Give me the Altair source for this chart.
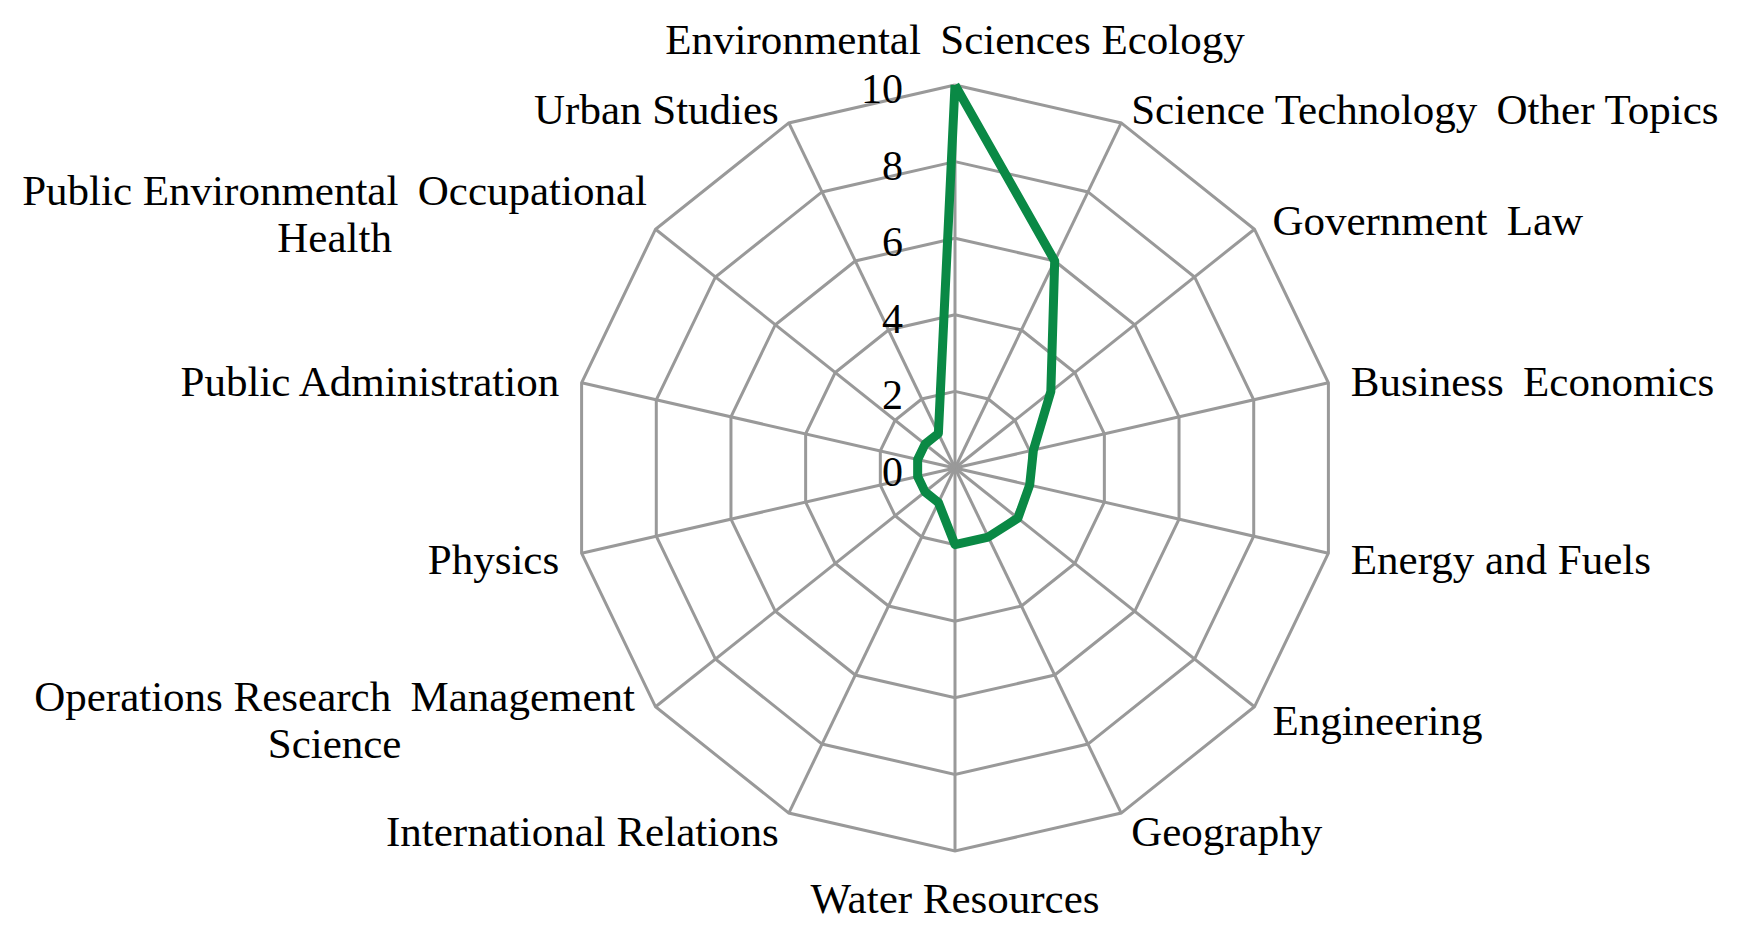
import altair as alt
import pandas as pd

categories = [
    "Environmental  Sciences Ecology",
    "Science Technology  Other Topics",
    "Government  Law",
    "Business  Economics",
    "Energy and Fuels",
    "Engineering",
    "Geography",
    "Water Resources",
    "International Relations",
    "Operations Research  Management\nScience",
    "Physics",
    "Public Administration",
    "Public Environmental  Occupational\nHealth",
    "Urban Studies",
]
values = [10, 6, 3.2, 2.1, 2.0, 2.1, 2.0, 2.0, 1.0, 1.0, 1.0, 1.0, 1.0, 1.0]
ticks = [0, 2, 4, 6, 8, 10]

N = len(categories)
FONT = "Liberation Serif"
GRID = "#999999"
GREEN = "#0a8945"

# layout (pixels)
W, H = 1720, 915
CX, CY = 947, 460      # centre of the web inside the plot area
PPU = 38.3             # pixels per value unit
LABEL_R = 10.6

xscale = alt.Scale(domain=[-CX / PPU, (W - CX) / PPU], nice=False, zero=False)
yscale = alt.Scale(domain=[-(H - CY) / PPU, CY / PPU], nice=False, zero=False)

def polar(chart):
    return chart.transform_calculate(
        angle=f"datum.idx * 2 * PI / {N}"
    ).transform_calculate(
        px="datum.value * sin(datum.angle)",
        py="datum.value * cos(datum.angle)",
    )

X = alt.X("px:Q", scale=xscale, axis=None)
Y = alt.Y("py:Q", scale=yscale, axis=None)
YL = alt.Y("ly:Q", scale=yscale, axis=None)

# series
series_df = pd.DataFrame({
    "idx": list(range(N)) + [0],
    "order": list(range(N + 1)),
    "value": values + [values[0]],
})

# rings
ring_rows = []
for t in ticks[1:]:
    for k in range(N + 1):
        ring_rows.append({"ring": t, "idx": k % N, "order": k, "value": t})
rings_df = pd.DataFrame(ring_rows)

# spokes
spoke_rows = []
for k in range(N):
    spoke_rows.append({"idx": k, "value": 0})
    spoke_rows.append({"idx": k, "value": ticks[-1]})
spokes_df = pd.DataFrame(spoke_rows)

labels_df = pd.DataFrame({
    "idx": list(range(N)),
    "label": [c.replace("  ", " \u2009") for c in categories],
    "multi": [("\n" in c) for c in categories],
    "value": [LABEL_R] * N,
})
ticks_df = pd.DataFrame({"idx": [0] * len(ticks), "value": ticks, "t": [str(t) for t in ticks]})

rings = polar(alt.Chart(rings_df)).mark_line(color=GRID, strokeWidth=3).encode(
    x=X, y=Y, order="order:Q", detail="ring:N")
spokes = polar(alt.Chart(spokes_df)).mark_line(color=GRID, strokeWidth=3).encode(
    x=X, y=Y, order="value:Q", detail="idx:N")
line = polar(alt.Chart(series_df)).mark_line(
    color=GREEN, strokeWidth=9, strokeJoin="round").encode(x=X, y=Y, order="order:Q")

tick_text = polar(alt.Chart(ticks_df)).mark_text(
    font=FONT, fontSize=42, align="right", baseline="middle", dx=-52, dy=5, color="black"
).encode(x=X, y=Y, text="t:N")

lab = polar(alt.Chart(labels_df)).transform_calculate(
    side=f"datum.idx == 0 ? 'top' : (datum.idx == {N // 2} ? 'bottom' : (datum.idx < {N // 2} ? 'right' : 'left'))",
    ly=f"datum.py - (4 + 5 * cos(datum.angle)) / {PPU}",
)
common = dict(font=FONT, fontSize=43, color="black")
lab_top = lab.transform_filter("datum.side == 'top'").mark_text(
    align="center", baseline="bottom", dy=1, **common).encode(x=X, y=Y, text="label:N")
lab_bottom = lab.transform_filter("datum.side == 'bottom'").mark_text(
    align="center", baseline="top", dy=5, **common).encode(x=X, y=Y, text="label:N")
lab_right = lab.transform_filter("datum.side == 'right'").mark_text(
    align="left", baseline="middle", **common).encode(x=X, y=YL, text="label:N")
lab_left = lab.transform_filter("datum.side == 'left' && !datum.multi").mark_text(
    align="right", baseline="middle", **common).encode(x=X, y=YL, text="label:N")
lab_multi = lab.transform_filter("datum.side == 'left' && datum.multi").mark_text(
    align="center", baseline="middle", lineBreak="\n", lineHeight=47, dx=-303, dy=-23, **common
).encode(x=X, y=Y, text="label:N")

chart = alt.layer(
    rings, spokes, line, tick_text, lab_top, lab_bottom, lab_right, lab_left, lab_multi
).properties(
    width=W, height=H, autosize=alt.AutoSizeParams(type="none"), padding=0
).configure_view(stroke=None)

chart.save("out.html", embed_options={"renderer": "svg", "actions": False})
